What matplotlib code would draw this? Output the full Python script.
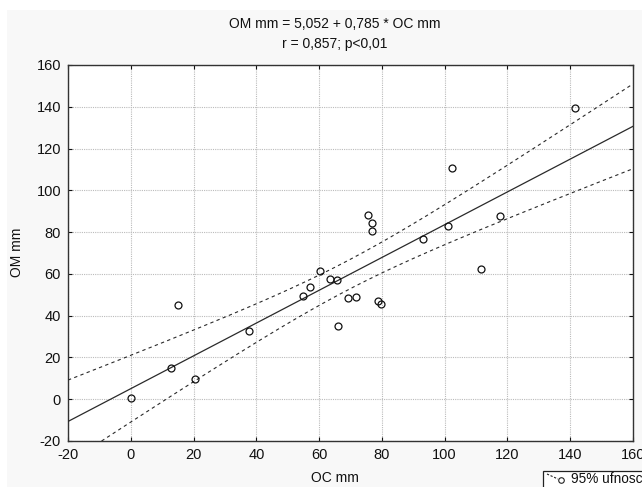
import numpy as np
import matplotlib
matplotlib.use("Agg")
import matplotlib.pyplot as plt
from matplotlib.lines import Line2D
from matplotlib.patches import Rectangle

# ---- data ----
oc_mm = [0, 12.8, 15, 20.5, 37.7, 55, 57.2, 60.3, 63.5, 65.8, 66, 69.1, 71.9,
         75.7, 76.7, 76.9, 78.7, 79.8, 93, 101.1, 102.4, 111.5, 117.5, 141.5]
om_mm = [0.6, 15, 45, 9.7, 32.7, 49.3, 53.7, 61.5, 57.4, 56.9, 35, 48.3, 49.1,
         88.3, 84.5, 80.5, 47, 45.4, 76.8, 82.8, 110.7, 62.3, 87.6, 139.3]
intercept = 5.052
slope = 0.785
x_ticks = [-20, 0, 20, 40, 60, 80, 100, 120, 140, 160]
y_ticks = [-20, 0, 20, 40, 60, 80, 100, 120, 140, 160]
title_lines = ["OM mm = 5,052 + 0,785 * OC mm", "r = 0,857; p<0,01"]
x_label = "OC mm"
y_label = "OM mm"
legend_label = "95% ufnosci"

plt.rcParams['font.family'] = ['Liberation Sans', 'DejaVu Sans']

W, H = 642, 487
fig = plt.figure(figsize=(W / 100, H / 100), dpi=100)
fig.patch.set_facecolor('white')
fig.add_artist(Rectangle((7 / W, 0), 1, 1 - 10 / H, transform=fig.transFigure,
                         facecolor='#f8f8f8', edgecolor='none', zorder=-10))

ax = fig.add_axes([68 / W, 1 - 441 / H, (633 - 68) / W, (441 - 65) / H])
ax.set_facecolor('white')

x = np.array(oc_mm)
y = np.array(om_mm)
n = len(x)
xs = np.linspace(-20, 160, 200)
ys = intercept + slope * xs
resid = y - (intercept + slope * x)
s = np.sqrt(np.sum(resid ** 2) / (n - 2))
sxx = np.sum((x - x.mean()) ** 2)
tval = 2.074
half = tval * s * np.sqrt(1 / n + (xs - x.mean()) ** 2 / sxx)

ax.plot(xs, ys, color='#2a2a2a', lw=0.9, zorder=3)
ax.plot(xs, ys + half, color='#2a2a2a', lw=0.8, ls=(0, (3, 3)), zorder=3)
ax.plot(xs, ys - half, color='#2a2a2a', lw=0.8, ls=(0, (3, 3)), zorder=3)
ax.plot(x, y, ls='none', marker='o', ms=5, mfc='none', mec='#111111', mew=0.9, zorder=4)

ax.set_xlim(-20, 160)
ax.set_ylim(-20, 160)
ax.set_xticks(x_ticks)
ax.set_yticks(y_ticks)
ax.set_xticklabels([str(v) for v in x_ticks])
ax.set_yticklabels([str(v) for v in y_ticks])
ax.grid(True, color='#bbbbbb', ls=(0, (1, 1)), lw=0.8)
ax.set_axisbelow(True)
ax.tick_params(direction='in', length=3, width=0.8, top=True, right=True,
               labelsize=10.5, colors='#111111', pad=5)
for sp in ax.spines.values():
    sp.set_color('#333333')
    sp.set_linewidth(1.0)

fig.text(335 / W, 1 - 24 / H, title_lines[0], ha='center', va='center', fontsize=10, color='#111111')
fig.text(335 / W, 1 - 44 / H, title_lines[1], ha='center', va='center', fontsize=10, color='#111111')
fig.text(335 / W, 1 - 478 / H, x_label, ha='center', va='center', fontsize=10, color='#111111')
fig.text(17 / W, 1 - 252 / H, y_label, ha='center', va='center', rotation=90, fontsize=10, color='#111111')

# legend box (clipped by the figure edge as in the reference)
fig.add_artist(Rectangle((543 / W, 1 - 500 / H), 120 / W, 29 / H, transform=fig.transFigure,
                         facecolor='white', edgecolor='#222222', lw=0.9))
fig.add_artist(Line2D([547 / W, 558 / W], [1 - 474 / H, 1 - 479 / H], transform=fig.transFigure,
                      color='#222222', lw=0.8, ls=(0, (2, 1.5))))
fig.add_artist(Line2D([561 / W], [1 - 480 / H], transform=fig.transFigure, marker='o', ms=4,
                      mfc='none', mec='#222222', mew=0.8, ls='none'))
fig.text(571 / W, 1 - 479 / H, legend_label, ha='left', va='center', fontsize=9.8, color='#111111')

fig.savefig('out.png', dpi=100, facecolor=fig.get_facecolor())
